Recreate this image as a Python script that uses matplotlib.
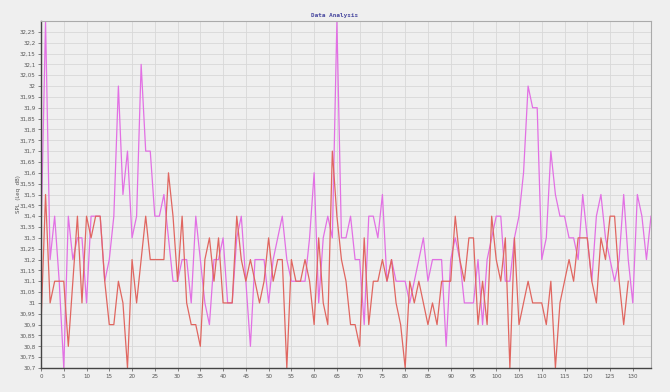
import numpy as np
import matplotlib
matplotlib.use("Agg")
import matplotlib.pyplot as plt
from matplotlib.ticker import FuncFormatter

# SPL readings (Leq dB)
spl_red = [30.9, 31.5, 31.0, 31.1, 31.1, 31.1, 30.8, 31.1, 31.4, 31.0,
           31.4, 31.3, 31.4, 31.4, 31.1, 30.9, 30.9, 31.1, 31.0, 30.7,
           31.2, 31.0, 31.2, 31.4, 31.2, 31.2, 31.2, 31.2, 31.6, 31.4,
           31.1, 31.4, 31.0, 30.9, 30.9, 30.8, 31.2, 31.3, 31.1, 31.3,
           31.0, 31.0, 31.0, 31.4, 31.2, 31.1, 31.2, 31.1, 31.0, 31.1,
           31.3, 31.1, 31.2, 31.2, 30.7, 31.2, 31.1, 31.1, 31.2, 31.1,
           30.9, 31.3, 31.0, 30.9, 31.7, 31.4, 31.2, 31.1, 30.9, 30.9,
           30.8, 31.3, 30.9, 31.1, 31.1, 31.2, 31.1, 31.2, 31.0, 30.9,
           30.7, 31.1, 31.0, 31.1, 31.0, 30.9, 31.0, 30.9, 31.1, 31.1,
           31.1, 31.4, 31.2, 31.1, 31.3, 31.3, 30.9, 31.1, 30.9, 31.4,
           31.2, 31.1, 31.3, 30.7, 31.3, 30.9, 31.0, 31.1, 31.0, 31.0,
           31.0, 30.9, 31.1, 30.7, 31.0, 31.1, 31.2, 31.1, 31.3, 31.3,
           31.3, 31.1, 31.0, 31.3, 31.2, 31.4, 31.4, 31.1, 30.9, 31.1]

spl_pink = [31.3, 32.3, 31.2, 31.4, 31.1, 30.7, 31.4, 31.2, 31.3, 31.3,
            31.0, 31.4, 31.4, 31.4, 31.1, 31.2, 31.4, 32.0, 31.5, 31.7,
            31.3, 31.4, 32.1, 31.7, 31.7, 31.4, 31.4, 31.5, 31.3, 31.1,
            31.1, 31.2, 31.2, 31.0, 31.4, 31.2, 31.0, 30.9, 31.2, 31.2,
            31.3, 31.0, 31.0, 31.3, 31.4, 31.1, 30.8, 31.2, 31.2, 31.2,
            31.0, 31.2, 31.3, 31.4, 31.2, 31.1, 31.1, 31.1, 31.1, 31.3,
            31.6, 31.0, 31.3, 31.4, 31.3, 32.3, 31.3, 31.3, 31.4, 31.2,
            31.2, 30.9, 31.4, 31.4, 31.3, 31.5, 31.1, 31.2, 31.1, 31.1,
            31.1, 31.0, 31.1, 31.2, 31.3, 31.1, 31.2, 31.2, 31.2, 30.8,
            31.2, 31.3, 31.2, 31.0, 31.0, 31.0, 31.2, 30.9, 31.2, 31.3,
            31.4, 31.4, 31.1, 31.1, 31.3, 31.4, 31.6, 32.0, 31.9, 31.9,
            31.2, 31.3, 31.7, 31.5, 31.4, 31.4, 31.3, 31.3, 31.2, 31.5,
            31.3, 31.1, 31.4, 31.5, 31.3, 31.2, 31.1, 31.2, 31.5, 31.2,
            31.0, 31.5, 31.4, 31.2, 31.4]

x_ticks = list(range(0, 131, 5))
y_ticks = [round(30.7 + 0.05 * k, 2) for k in range(32)]


def comma_fmt(v, pos):
    s = ("%.2f" % v).rstrip("0").rstrip(".")
    return s.replace(".", ",")


def main():
    bg = "#efefef"
    fig = plt.figure(figsize=(6.7, 3.92), dpi=100)
    fig.patch.set_facecolor(bg)
    ax = fig.add_axes([41 / 670, 1 - 368 / 392, 610 / 670, 347 / 392])
    ax.set_facecolor(bg)

    ax.plot(np.arange(len(spl_pink)), spl_pink, color="#e270e4", lw=0.9)
    ax.plot(np.arange(len(spl_red)), spl_red, color="#e06660", lw=0.9)

    ax.set_xlim(0, 134)
    ax.set_ylim(30.7, 32.3)
    ax.set_xticks(x_ticks)
    ax.set_yticks(y_ticks)
    ax.yaxis.set_major_formatter(FuncFormatter(comma_fmt))
    ax.tick_params(labelsize=4, colors="#555555", length=2, width=0.5, pad=2)
    ax.grid(True, color="#d8d8d8", lw=0.6)
    ax.set_axisbelow(True)

    for side in ["left", "bottom"]:
        ax.spines[side].set_color("#444444")
        ax.spines[side].set_linewidth(1.0)
    for side in ["top", "right"]:
        ax.spines[side].set_color("#aaaaaa")
        ax.spines[side].set_linewidth(0.8)

    ax.set_ylabel("SPL  (Leq  dB)", fontsize=4, color="#555555")
    ax.yaxis.set_label_coords(-0.033, 0.5)
    fig.text(0.5, 1 - 16 / 392, "Data Analysis", fontsize=4.3, color="#4a4aa0",
             family="DejaVu Sans Mono", fontweight="bold", ha="center", va="center")

    fig.savefig("out.png", dpi=100, facecolor=bg)


if __name__ == "__main__":
    main()
